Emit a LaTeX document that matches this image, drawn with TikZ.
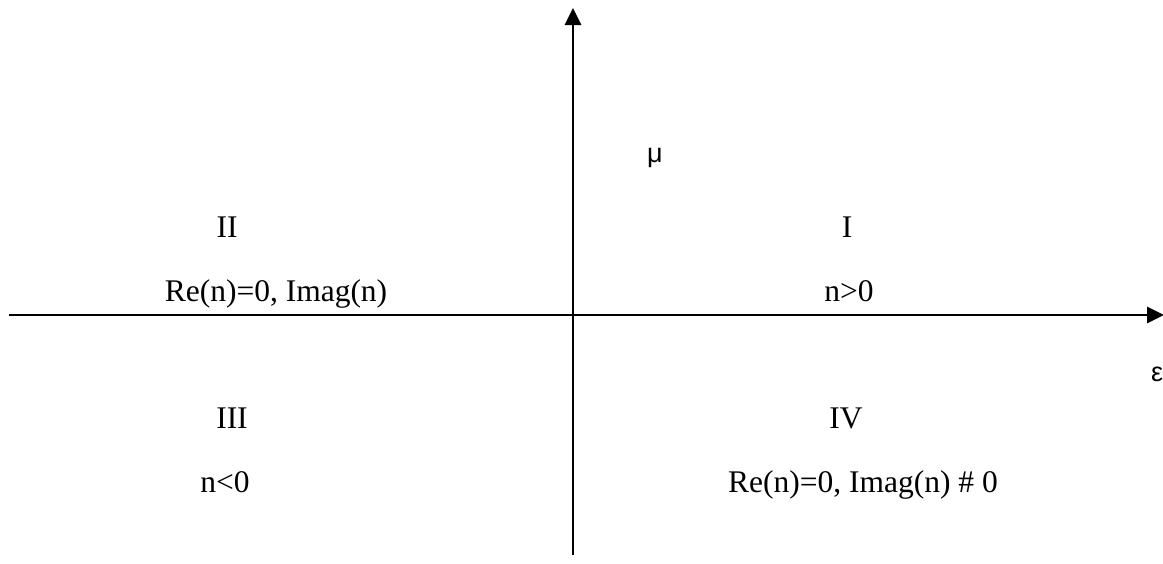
\documentclass[tikz,border=0pt]{standalone}
\usepackage{fontspec}
\setmainfont{Liberation Serif}
\newfontfamily\axfont{Liberation Sans}
\usetikzlibrary{arrows.meta}
\begin{document}
\begin{tikzpicture}[x=1pt,y=-1pt,
  lbl/.style={inner sep=0pt,anchor=base,font=\fontsize{31.5}{36}\selectfont},
  axlbl/.style={inner sep=0pt,anchor=base west,font=\axfont\fontsize{27}{30}\selectfont},
  axis/.style={line width=2.8pt,-{Triangle[length=17pt,width=16pt]}}]
\useasboundingbox (0,0) rectangle (1163,563);
\coordinate (xs) at (9,315);
\coordinate (xe) at (1164,315);
\coordinate (ys) at (573,555);
\coordinate (ye) at (573,8);
\draw[axis] (xs) -- (xe);
\draw[axis] (ys) -- (ye);
\node[axlbl] (mu) at (647,162) {μ};
\node[axlbl] (eps) at (1151,381) {ε};
\node[lbl] (q2) at (227,237) {II};
\node[lbl] (q2t) at (276,301) {Re(n)=0, Imag(n)};
\node[lbl] (q1) at (847,237) {I};
\node[lbl] (q1t) at (849,301) {n>0};
\node[lbl] (q3) at (232,428) {III};
\node[lbl] (q3t) at (225,492) {n<0};
\node[lbl] (q4) at (846,428) {IV};
\node[lbl] (q4t) at (863,492) {Re(n)=0, Imag(n) \# 0};
\end{tikzpicture}
\end{document}
